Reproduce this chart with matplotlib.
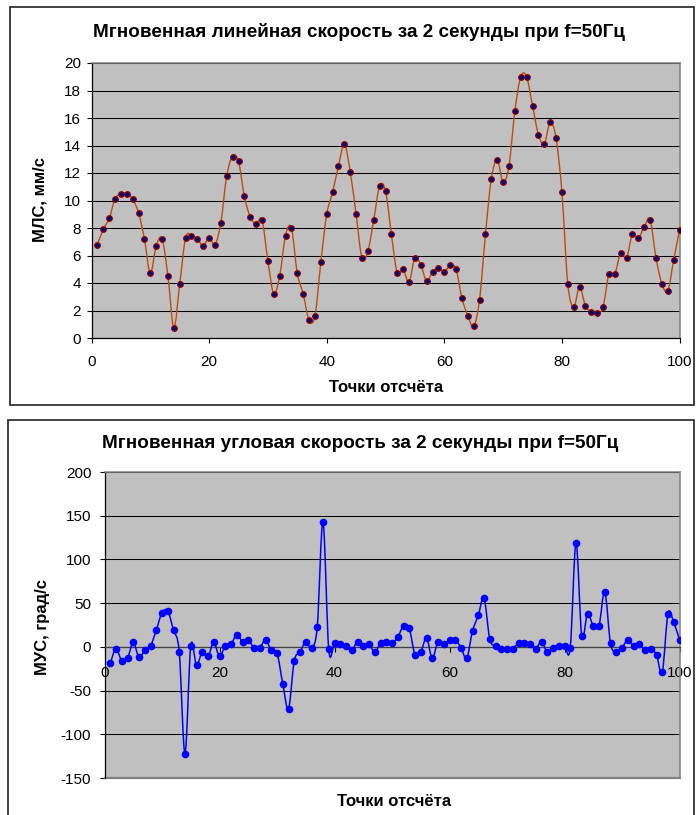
import matplotlib
matplotlib.use("Agg")
import matplotlib.pyplot as plt
from matplotlib.path import Path
from matplotlib.patches import PathPatch, Rectangle

plt.rcParams["font.family"] = ["Liberation Sans", "DejaVu Sans"]
plt.rcParams["axes.unicode_minus"] = False

W, H = 696, 815

# ---------- data ----------
points = list(range(1, 101))
linear_speed = [
    6.8, 7.9, 8.7, 10.1, 10.5, 10.5, 10.1, 9.1, 7.2, 4.7,
    6.7, 7.2, 4.5, 0.75, 3.9, 7.3, 7.45, 7.2, 6.7, 7.3,
    6.8, 8.4, 11.8, 13.2, 12.85, 10.3, 8.8, 8.3, 8.6, 5.6,
    3.2, 4.5, 7.45, 8.0, 4.7, 3.2, 1.3, 1.6, 5.5, 9.0,
    10.6, 12.5, 14.1, 12.1, 9.0, 5.8, 6.3, 8.6, 11.05, 10.7,
    7.55, 4.7, 5.0, 4.05, 5.85, 5.3, 4.15, 4.8, 5.1, 4.8,
    5.3, 5.0, 2.9, 1.6, 0.85, 2.8, 7.55, 11.6, 12.95, 11.35,
    12.5, 16.5, 19.0, 19.0, 16.9, 14.8, 14.1, 15.7, 14.55, 10.6,
    3.95, 2.25, 3.7, 2.35, 1.9, 1.8, 2.25, 4.65, 4.65, 6.2,
    5.85, 7.55, 7.25, 8.1, 8.6, 5.85, 3.95, 3.4, 5.65, 7.85,
]
angular_speed = [
    -19, -2, -16, -13, 5, -12, -4, 1, 19, 39,
    41, 19, -6, -122, 1, -21, -6, -11, 5, -11,
    1, 3, 14, 6, 8, -1, -1, 8, -4, -7,
    -42, -71, -16, -6, 6, -1, 23, 143, -3, 4,
    3, 1, -4, 6, 1, 3, -6, 4, 6, 4,
    11, 24, 21, -9, -6, 10, -13, 6, 3, 8,
    8, -1, -13, 18, 36, 56, 9, 1, -2, -2,
    -2, 4, 4, 3, -2, 6, -6, -1, 1, 1,
    -1, 119, 12, 38, 24, 24, 63, 4, -6, -1,
    8, 1, 3, -4, -2, -9, -29, 38, 28, 8,
]
assert len(linear_speed) == len(points) == len(angular_speed)

title_top = "Мгновенная линейная скорость за 2 секунды при f=50Гц"
title_bot = "Мгновенная угловая скорость за 2 секунды при f=50Гц"
xlabel = "Точки отсчёта"
ylabel_top = "МЛС, мм/с"
ylabel_bot = "МУС, град/с"


def smooth(ax, x, y, color, lw):
    # Excel-like smoothed line: cubic bezier through every point
    verts, codes = [(x[0], y[0])], [Path.MOVETO]
    n = len(x)
    for i in range(n - 1):
        xa, ya = (x[i - 1], y[i - 1]) if i > 0 else (x[i], y[i])
        xb, yb = (x[i + 2], y[i + 2]) if i + 2 < n else (x[i + 1], y[i + 1])
        c1 = (x[i] + (x[i + 1] - xa) / 6, y[i] + (y[i + 1] - ya) / 6)
        c2 = (x[i + 1] - (xb - x[i]) / 6, y[i + 1] - (yb - y[i]) / 6)
        verts += [c1, c2, (x[i + 1], y[i + 1])]
        codes += [Path.CURVE4] * 3
    ax.add_patch(PathPatch(Path(verts, codes), fill=False, ec=color, lw=lw, zorder=3))


def px_ax(left, top, right, bottom):
    return fig.add_axes((left / W, (H - bottom) / H, (right - left) / W, (bottom - top) / H))


def style(ax):
    ax.set_facecolor("#c0c0c0")
    ax.grid(axis="y", color="black", lw=0.75, zorder=1)
    ax.set_axisbelow(True)
    for s in ("top", "right"):
        ax.spines[s].set_color("#808080")
        ax.spines[s].set_linewidth(1.1)
    for s in ("left", "bottom"):
        ax.spines[s].set_color("black")
        ax.spines[s].set_linewidth(0.9)
    ax.tick_params(direction="out", length=3.5, width=0.8, labelsize=11)


fig = plt.figure(figsize=(W / 100, H / 100), dpi=100)

# chart frames
fig.add_artist(Rectangle((10 / W, (H - 405) / H), 684 / W, 398 / H, transform=fig.transFigure,
                         fill=False, ec="#222", lw=1.2))
fig.add_artist(Rectangle((8 / W, -0.05), 686 / W, (H - 420) / H + 0.05, transform=fig.transFigure,
                         fill=False, ec="#222", lw=1.2))

# ---------- top: linear speed ----------
ax1 = px_ax(91.5, 63, 679.5, 338)
style(ax1)
smooth(ax1, points, linear_speed, "#c04a0c", 1.0)
ax1.plot(points, linear_speed, ls="none", marker="o", ms=4, mfc="#000080", mec="#8b0000", mew=0.9, zorder=4)
ax1.set_xlim(0, 100)
ax1.set_ylim(0, 20)
ax1.set_xticks(range(0, 101, 20))
ax1.set_yticks(range(0, 21, 2))
ax1.tick_params(axis="x", pad=9)
ax1.tick_params(axis="y", pad=4)

fig.text(359 / W, 1 - 32 / H, title_top, ha="center", va="center", fontsize=13.6, fontweight="bold")
fig.text(386 / W, 1 - 388 / H, xlabel, ha="center", va="center", fontsize=12, fontweight="bold")
fig.text(40 / W, 1 - 200 / H, ylabel_top, ha="center", va="center", rotation=90, fontsize=12, fontweight="bold")

# ---------- bottom: angular speed ----------
ax2 = px_ax(104.5, 472, 679.5, 778)
style(ax2)
smooth(ax2, points, angular_speed, "#0000ff", 1.1)
ax2.plot(points, angular_speed, ls="none", marker="o", ms=4.5, mfc="#0000ff", mec="#0000ff", zorder=4)
ax2.set_xlim(0, 100)
ax2.set_ylim(-150, 200)
ax2.set_xticks(range(0, 101, 20))
ax2.set_yticks(range(-150, 201, 50))
ax2.spines["bottom"].set_position(("data", 0))
ax2.spines["bottom"].set_color("#404040")
ax2.spines["left"].set_bounds(-150, 200)
ax2.axhline(-150, color="#808080", lw=1.6, zorder=2, clip_on=False)
ax2.tick_params(axis="x", pad=10)
ax2.tick_params(axis="y", pad=6)

fig.text(360 / W, 1 - 443 / H, title_bot, ha="center", va="center", fontsize=13.6, fontweight="bold")
fig.text(394 / W, 1 - 801 / H, xlabel, ha="center", va="center", fontsize=12, fontweight="bold")
fig.text(42 / W, 1 - 627 / H, ylabel_bot, ha="center", va="center", rotation=90, fontsize=12, fontweight="bold")

fig.savefig("out.png", dpi=100, facecolor="white")
